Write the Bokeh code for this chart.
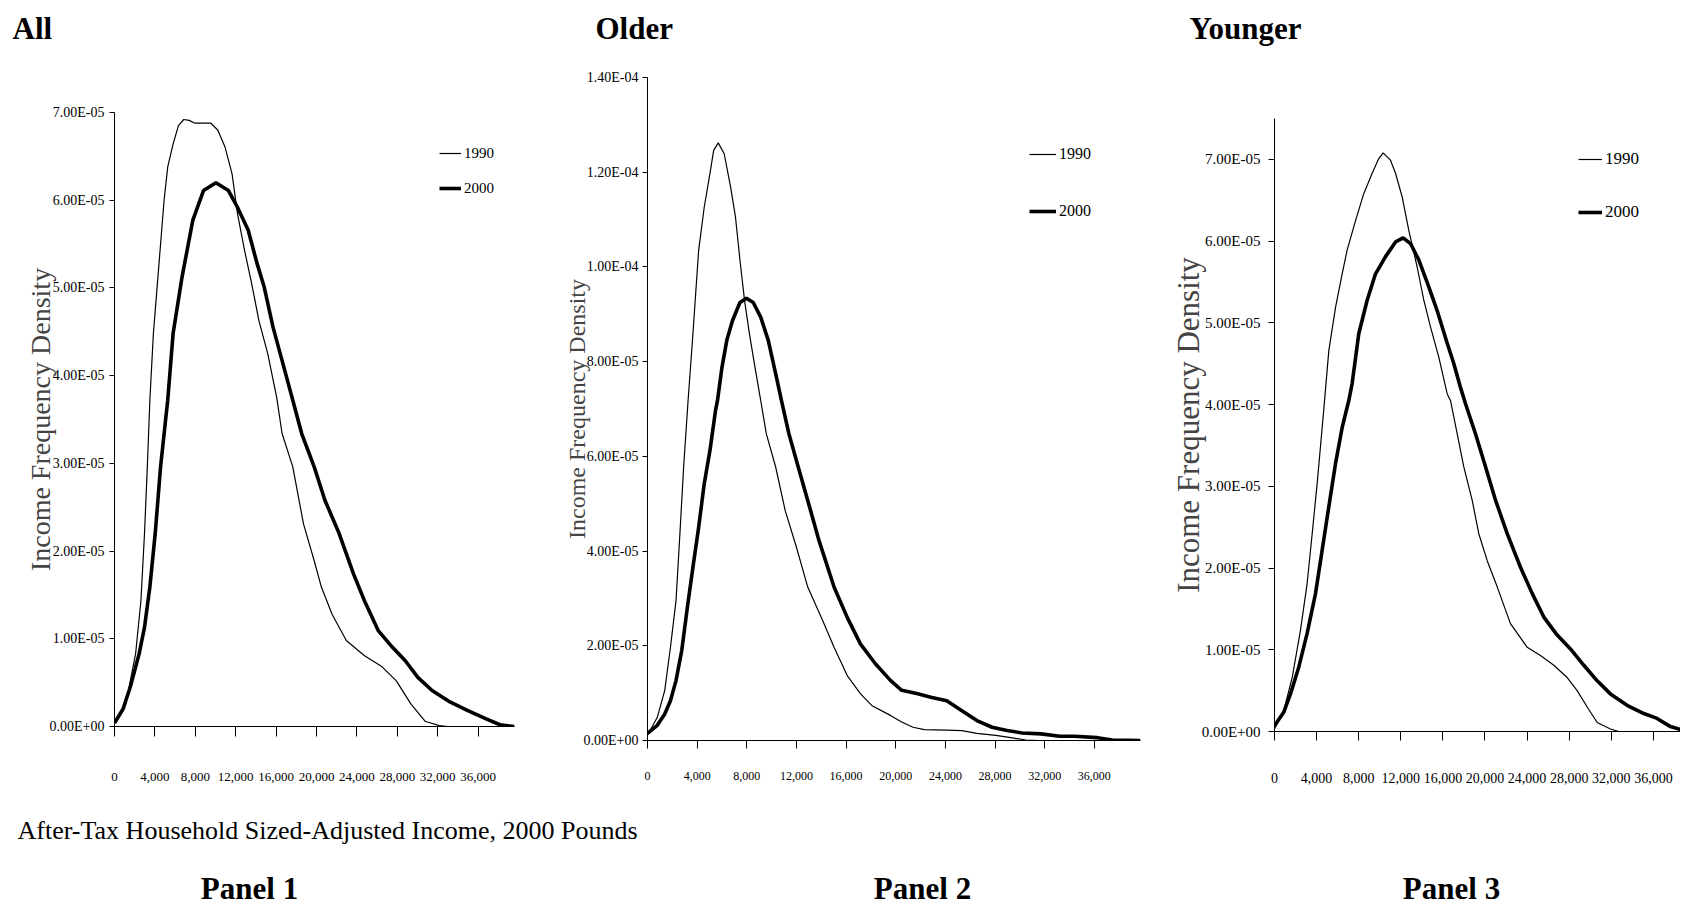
from bokeh.plotting import figure
from bokeh.models import (Range1d, FixedTicker, NumeralTickFormatter, CustomJSTickFormatter,
                          Label, Legend, LegendItem, ColumnDataSource)
from bokeh.layouts import row, column
from bokeh.embed import file_html
from bokeh.resources import INLINE

SERIF = "Liberation Serif"

# ---------------- data (x: pounds, y: density in units of 1e-5) ----------------
x_ticks = [0, 4000, 8000, 12000, 16000, 20000, 24000, 28000, 32000, 36000]
y_ticks_all = [0, 1e-5, 2e-5, 3e-5, 4e-5, 5e-5, 6e-5, 7e-5]
y_ticks_older = [0, 2e-5, 4e-5, 6e-5, 8e-5, 1.0e-4, 1.2e-4, 1.4e-4]
y_ticks_younger = [0, 1e-5, 2e-5, 3e-5, 4e-5, 5e-5, 6e-5, 7e-5]
years = ["1990", "2000"]
titles = ["All", "Older", "Younger"]
panel_names = ["Panel 1", "Panel 2", "Panel 3"]
x_title = "After-Tax Household Sized-Adjusted Income, 2000 Pounds"
y_title = "Income Frequency Density"

all_x_1990 = [0, 850, 1380, 2090, 2620, 2970, 3250, 3500, 3850, 4380, 4910, 5270, 5800, 6330,
              6860, 7390, 7920, 9510, 10220, 10930, 11640, 12170, 12870, 13580, 14290, 15170,
              16060, 16590, 17650, 18710, 19770, 20480, 21540, 22950, 24720, 26490, 27900,
              29320, 30740, 32150, 33000, 39600]
all_y_1990 = [0.05, 0.22, 0.41, 0.83, 1.44, 2.20, 2.96, 3.72, 4.48, 5.24, 6.00, 6.38, 6.64, 6.85,
              6.92, 6.91, 6.88, 6.88, 6.80, 6.61, 6.30, 5.85, 5.43, 5.05, 4.63, 4.25,
              3.75, 3.34, 2.96, 2.31, 1.89, 1.59, 1.28, 0.98, 0.81, 0.68, 0.52,
              0.26, 0.06, 0.01, 0.0, 0.0]
all_x_2000 = [0, 850, 1560, 2440, 2970, 3500, 4030, 4560, 5090, 5270, 5800, 6680, 7750, 8810,
              10040, 11280, 12170, 13230, 14110, 14820, 15700, 16760, 17650, 18530, 19770,
              20830, 22240, 23660, 24720, 26130, 27540, 28790, 30030, 31440, 33210, 34980,
              36740, 38160, 39600]
all_y_2000 = [0.04, 0.20, 0.45, 0.83, 1.13, 1.59, 2.20, 2.96, 3.53, 3.72, 4.48, 5.12, 5.77, 6.11,
              6.20, 6.11, 5.92, 5.66, 5.28, 5.01, 4.55, 4.10, 3.72, 3.34, 2.96,
              2.58, 2.20, 1.74, 1.44, 1.09, 0.90, 0.75, 0.56, 0.41, 0.28, 0.18,
              0.09, 0.02, 0.0]

older_x_1990 = [0, 790, 1390, 1850, 2300, 2610, 2910, 3270, 3660, 4120, 4570, 5030, 5330, 5700,
                6180, 6700, 7090, 7450, 7820, 8210, 8660, 9120, 9570, 10330, 11090, 12000,
                12910, 14120, 15030, 16090, 17150, 18060, 19570, 20480, 21390, 22300, 24110,
                25330, 26540, 28060, 29270, 30480, 31500, 39700]
older_y_1990 = [0.11, 0.49, 1.06, 1.97, 2.96, 4.36, 5.77, 7.18, 8.59, 10.35, 11.26, 11.97, 12.46,
                12.62, 12.39, 11.68, 11.05, 10.14, 9.29, 8.59, 7.88, 7.18, 6.48, 5.77, 4.86,
                4.08, 3.24, 2.53, 1.97, 1.37, 0.99, 0.74, 0.53, 0.39, 0.28, 0.23, 0.22,
                0.21, 0.15, 0.11, 0.06, 0.01, 0.0, 0.0]
older_x_2000 = [0, 790, 1390, 1850, 2300, 2760, 3210, 3660, 4120, 4570, 5030, 5480, 5640, 6000,
                6390, 6850, 7450, 7970, 8520, 9120, 9730, 10330, 10790, 11390, 12150, 12910,
                13820, 15030, 16090, 17150, 18360, 19570, 20480, 21690, 22910, 24110, 25330,
                26540, 27760, 28970, 30180, 31700, 33210, 34420, 36240, 37450, 39700]
older_y_2000 = [0.15, 0.32, 0.56, 0.84, 1.27, 1.90, 2.81, 3.66, 4.50, 5.42, 6.12, 6.97, 7.18, 7.88,
                8.45, 8.87, 9.25, 9.34, 9.25, 8.94, 8.45, 7.74, 7.18, 6.48, 5.77, 5.07,
                4.22, 3.24, 2.60, 2.04, 1.62, 1.27, 1.06, 0.99, 0.91, 0.84, 0.63,
                0.42, 0.28, 0.21, 0.16, 0.14, 0.09, 0.09, 0.06, 0.01, 0.0]

younger_x_1990 = [0, 890, 1680, 2470, 3100, 3580, 4050, 4530, 4690, 5160, 5800, 6430, 6900, 7700,
                  8480, 9280, 9910, 10320, 11020, 11500, 12130, 12760, 13560, 14180, 14820,
                  15610, 16410, 16720, 17360, 17980, 18780, 19410, 20210, 21160, 22420, 24010,
                  25270, 26540, 27810, 28760, 29710, 30660, 31920, 32710, 39000]
younger_y_1990 = [0.03, 0.26, 0.66, 1.24, 1.81, 2.42, 3.03, 3.72, 3.95, 4.66, 5.19, 5.60, 5.89, 6.25,
                  6.58, 6.83, 7.01, 7.08, 6.99, 6.83, 6.54, 6.13, 5.68, 5.28, 4.95,
                  4.58, 4.13, 4.05, 3.64, 3.24, 2.83, 2.42, 2.09, 1.77, 1.32, 1.03,
                  0.93, 0.81, 0.66, 0.50, 0.30, 0.11, 0.03, 0.0, 0.0]
younger_x_2000 = [0, 890, 1520, 2310, 3100, 3900, 4530, 5160, 5800, 6430, 7060, 7380, 8010, 8810,
                  9600, 10550, 11500, 12220, 12920, 13710, 14660, 15450, 16410, 17040, 17670,
                  18150, 19100, 20050, 21000, 22110, 23370, 24480, 25590, 26860, 28120, 29390,
                  30660, 31920, 33500, 35090, 36350, 37620, 38730, 39600]
younger_y_2000 = [0.07, 0.24, 0.46, 0.79, 1.20, 1.69, 2.22, 2.75, 3.28, 3.72, 4.05, 4.26, 4.87, 5.28,
                  5.60, 5.81, 5.99, 6.04, 5.97, 5.77, 5.44, 5.15, 4.75, 4.50, 4.21,
                  4.01, 3.64, 3.24, 2.83, 2.42, 2.01, 1.69, 1.40, 1.18, 1.01, 0.81,
                  0.62, 0.46, 0.32, 0.22, 0.16, 0.06, 0.02, 0.0]

UNIT = 1e-5

# ---------------- layout / style per panel ----------------
TOTAL_W = 1680
STRIP_TOP_H = 50
ROW_H = 762
STRIP_BOT_H = 94

panels = [
    dict(w=560, left=114, right=46, top=62, bottom=86, xend=39600, yend=7e-5,
         yticks=y_ticks_all, xtick_out=10, xstand=36, ytick_out=5, ystand=5,
         ytick_fs="14px", xtick_fs="13px", leg_fs="15px", ylab_fs="28px", ylab_stand=-9,
         leg_loc=(325, 528), leg_gw=22, leg_sp=15,
         data=(all_x_1990, all_y_1990, all_x_2000, all_y_2000)),
    dict(w=600, left=79, right=20, top=27, bottom=72, xend=39720, yend=1.4e-4,
         yticks=y_ticks_older, xtick_out=8, xstand=23, ytick_out=5, ystand=4,
         ytick_fs="14px", xtick_fs="12px", leg_fs="16px", ylab_fs="24px", ylab_stand=-9,
         leg_loc=(382, 519), leg_gw=27, leg_sp=37,
         data=(older_x_1990, older_y_1990, older_x_2000, older_y_2000)),
    dict(w=520, left=114, right=0, top=68, bottom=81, xend=38575, yend=7.5e-5,
         yticks=y_ticks_younger, xtick_out=9, xstand=32, ytick_out=6, ystand=8,
         ytick_fs="15px", xtick_fs="14px", leg_fs="17px", ylab_fs="31px", ylab_stand=-7,
         leg_loc=(304, 509), leg_gw=24, leg_sp=33,
         data=(younger_x_1990, younger_y_1990, younger_x_2000, younger_y_2000)),
]

yfmt_code = """
const s = tick.toExponential(2);
const parts = s.split('e');
let e = parts[1];
const sign = (e[0] === '-') ? '-' : '+';
e = e.replace('+', '').replace('-', '');
if (e.length < 2) { e = '0' + e; }
return parts[0] + 'E' + sign + e;
"""


def make_panel(cfg):
    p = figure(width=cfg["w"], height=ROW_H, output_backend="svg", toolbar_location=None,
               x_range=Range1d(0, cfg["xend"]), y_range=Range1d(0, cfg["yend"]),
               min_border_left=cfg["left"], min_border_right=cfg["right"],
               min_border_top=cfg["top"], min_border_bottom=cfg["bottom"])
    p.frame_align = False
    p.outline_line_color = None
    p.grid.visible = False
    p.background_fill_color = "white"
    p.border_fill_color = "white"

    xa = p.xaxis[0]
    xa.ticker = FixedTicker(ticks=x_ticks)
    xa.formatter = NumeralTickFormatter(format="0,0")
    xa.major_tick_out = cfg["xtick_out"]
    xa.major_tick_in = 0
    xa.minor_tick_out = 0
    xa.minor_tick_in = 0
    xa.major_label_standoff = cfg["xstand"]
    xa.major_label_text_font = SERIF
    xa.major_label_text_font_size = cfg["xtick_fs"]
    xa.major_label_text_color = "black"
    xa.axis_line_color = "black"
    xa.major_tick_line_color = "black"

    ya = p.yaxis[0]
    ya.ticker = FixedTicker(ticks=cfg["yticks"])
    ya.formatter = CustomJSTickFormatter(code=yfmt_code)
    ya.major_tick_out = cfg["ytick_out"]
    ya.major_tick_in = 0
    ya.minor_tick_out = 0
    ya.minor_tick_in = 0
    ya.major_label_standoff = cfg["ystand"]
    ya.major_label_text_font = SERIF
    ya.major_label_text_font_size = cfg["ytick_fs"]
    ya.major_label_text_color = "black"
    ya.axis_line_color = "black"
    ya.major_tick_line_color = "black"
    ya.axis_label = y_title
    ya.axis_label_text_font = SERIF
    ya.axis_label_text_font_style = "normal"
    ya.axis_label_text_font_size = cfg["ylab_fs"]
    ya.axis_label_text_color = "#444444"
    ya.axis_label_standoff = cfg["ylab_stand"]

    x90, y90, x00, y00 = cfg["data"]
    s90 = ColumnDataSource(dict(x=x90, y=[v * UNIT for v in y90]))
    s00 = ColumnDataSource(dict(x=x00, y=[v * UNIT for v in y00]))
    r90 = p.line("x", "y", source=s90, line_color="black", line_width=1.2)
    r00 = p.line("x", "y", source=s00, line_color="black", line_width=3.6)

    leg = Legend(items=[LegendItem(label=years[0], renderers=[r90]),
                        LegendItem(label=years[1], renderers=[r00])],
                 location=cfg["leg_loc"], glyph_width=cfg["leg_gw"], glyph_height=20,
                 label_height=20, spacing=cfg["leg_sp"], padding=0, margin=0, label_standoff=3,
                 label_text_font=SERIF, label_text_font_size=cfg["leg_fs"],
                 label_text_color="black", border_line_alpha=0, background_fill_alpha=0)
    p.add_layout(leg)
    return p


figs = [make_panel(c) for c in panels]


def strip(height):
    s = figure(width=TOTAL_W, height=height, output_backend="svg", toolbar_location=None,
               x_range=Range1d(0, TOTAL_W), y_range=Range1d(0, height),
               x_axis_type=None, y_axis_type=None, min_border=0)
    s.frame_align = False
    s.outline_line_color = None
    s.grid.visible = False
    return s


# top strip: panel titles (y measured up from the strip bottom)
pt = strip(STRIP_TOP_H)
for name, tx in zip(titles, [12, 595, 1189]):
    pt.add_layout(Label(x=tx, y=22, text=name, text_font=SERIF, text_font_style="bold",
                        text_font_size="31px", text_align="left",
                        text_baseline="alphabetic", text_color="black"))

# bottom strip: shared x title and panel names
pb = strip(STRIP_BOT_H)
pb.add_layout(Label(x=17, y=76, text=x_title, text_font=SERIF, text_font_size="26px",
                    text_align="left", text_baseline="alphabetic", text_color="black"))
for name, cx in zip(panel_names, [249, 922, 1451]):
    pb.add_layout(Label(x=cx, y=18, text=name, text_font=SERIF, text_font_style="bold",
                        text_font_size="31px", text_align="center",
                        text_baseline="alphabetic", text_color="black"))

layout = column(pt, row(*figs), pb)
open("out.html", "w").write(file_html(layout, INLINE))
